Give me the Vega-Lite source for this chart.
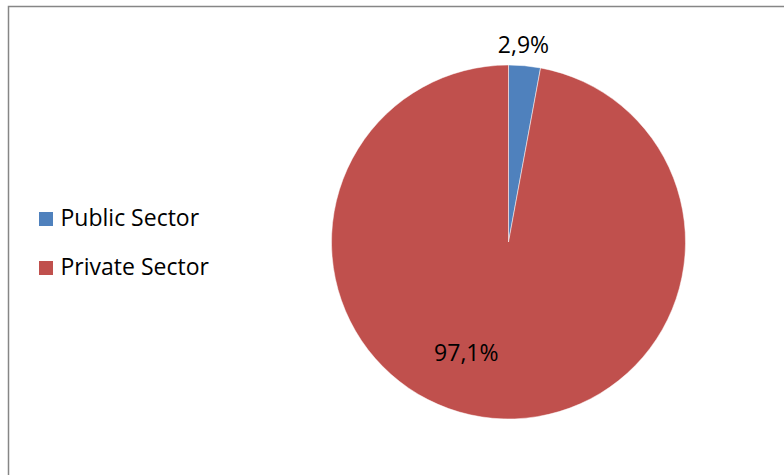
{
  "$schema": "https://vega.github.io/schema/vega-lite/v6.json",
  "autosize": {"type": "none"},
  "width": 1000,
  "height": 471,
  "padding": {"left": 8.5, "top": 6.5, "right": 0, "bottom": 0},
  "background": "white",
  "view": {"stroke": "#868686", "strokeWidth": 1.5, "fill": "white"},
  "config": {
    "view": {"stroke": "#868686", "strokeWidth": 1.5},
    "style": {"cell": {"stroke": "#868686", "strokeWidth": 1.5}},
    "font": "Open Sans"
  },
  "data": {
    "values": [
      {"sector": "Public Sector", "share": 2.9, "label": "2,9%"},
      {"sector": "Private Sector", "share": 97.1, "label": "97,1%"}
    ]
  },
  "encoding": {
    "theta": {"field": "share", "type": "quantitative", "stack": true},
    "order": {"field": "sector", "sort": "descending"}
  },
  "layer": [
    {
      "mark": {"type": "arc", "radius": 177, "stroke": "white", "strokeWidth": 0.5},
      "encoding": {
        "color": {
          "field": "sector",
          "type": "nominal",
          "scale": {"domain": ["Public Sector", "Private Sector"], "range": ["#4F81BD", "#C0504D"]},
          "legend": {
            "title": null,
            "orient": "none",
            "legendX": 26,
            "legendY": 201,
            "symbolType": "square",
            "symbolSize": 196,
            "symbolStrokeWidth": 0,
            "labelFontSize": 23,
            "labelFont": "Open Sans",
            "labelColor": "#000000",
            "labelOffset": 3,
            "rowPadding": 25
          }
        }
      }
    },
    {
      "mark": {"type": "text", "radius": 197, "dx": -3, "fontSize": 23, "font": "Open Sans", "color": "#000000"},
      "encoding": {
        "text": {"condition": {"test": "datum.sector === 'Public Sector'", "field": "label"}, "value": ""}
      }
    },
    {
      "mark": {"type": "text", "radius": 112, "dx": -32, "fontSize": 23, "font": "Open Sans", "color": "#000000"},
      "encoding": {
        "text": {"condition": {"test": "datum.sector === 'Private Sector'", "field": "label"}, "value": ""}
      }
    }
  ]
}
